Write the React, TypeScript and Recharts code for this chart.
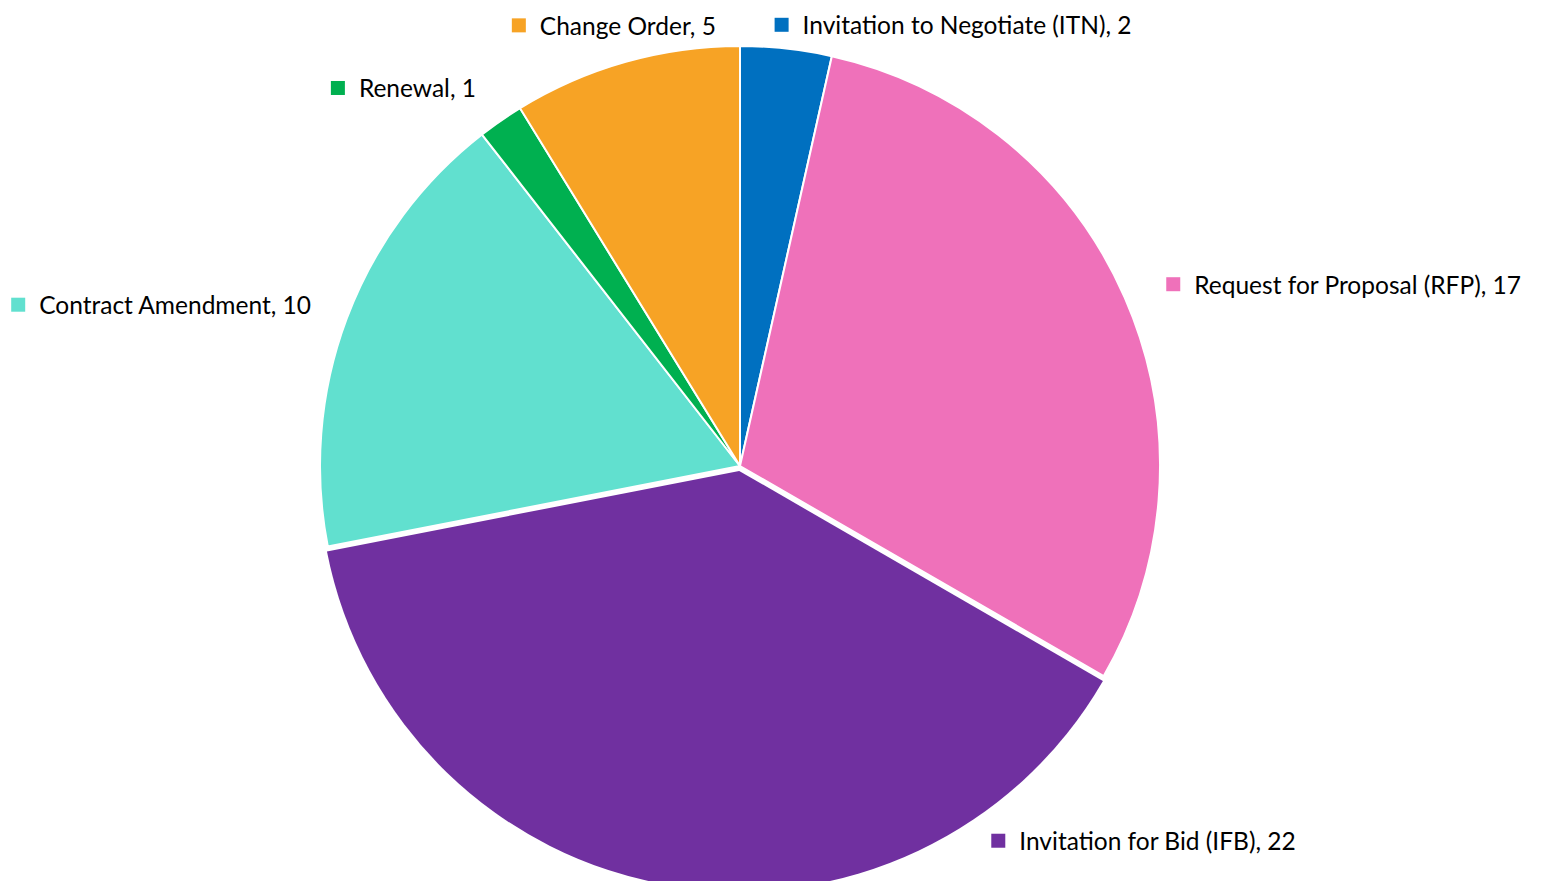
import React from 'react';
import { PieChart, Pie, Cell } from 'recharts';

const categories = [
  'Invitation to Negotiate (ITN)',
  'Request for Proposal (RFP)',
  'Invitation for Bid (IFB)',
  'Contract Amendment',
  'Renewal',
  'Change Order',
];
const counts = [2, 17, 22, 10, 1, 5];

const COLORS = ['#0070C0', '#EF71BA', '#7030A0', '#61E0CF', '#00B050', '#F7A325'];

// slice pulled out of the pie, like in the original
const EXPLODED = 'Invitation for Bid (IFB)';
const EXPLODE_PX = 5;

// nudges for the label square relative to the point just outside each slice
const LABEL_NUDGE: Record<string, [number, number]> = {
  'Invitation to Negotiate (ITN)': [-9, 16],
  'Request for Proposal (RFP)': [12, 3],
  'Invitation for Bid (IFB)': [334, -79],
  'Contract Amendment': [-291, 0],
  Renewal: [-140, 0],
  'Change Order': [-96, 2],
};

const RADIAN = Math.PI / 180;
const CX = 740;
const CY = 466;
const R = 420;

function renderLabel(props: any) {
  const { cx, cy, midAngle, outerRadius, name, value, index } = props;
  const r = outerRadius + 40;
  const bx = cx + r * Math.cos(-midAngle * RADIAN);
  const by = cy + r * Math.sin(-midAngle * RADIAN);
  const [dx, dy] = LABEL_NUDGE[name] || [0, 0];
  const x = bx + dx;
  const y = by + dy;
  return (
    <g key={`lbl-${index}`}>
      <rect x={x - 7} y={y - 7} width={14} height={14} fill={COLORS[index]} />
      <text
        x={x + 21}
        y={y}
        dominantBaseline="central"
        textAnchor="start"
        fontFamily="Lato, sans-serif"
        fontSize={24.5}
        fill="#000"
      >
        {`${name}, ${value}`}
      </text>
    </g>
  );
}

export default function App() {
  const data = categories.map((name, i) => ({ name, value: counts[i] }));

  // explosion offset along the mid angle of the pulled-out slice
  const total = counts.reduce((a, b) => a + b, 0);
  const k = categories.indexOf(EXPLODED);
  const before = counts.slice(0, k).reduce((a, b) => a + b, 0);
  const midCw = ((before + counts[k] / 2) / total) * 360 * RADIAN;
  const ex = EXPLODE_PX * Math.sin(midCw);
  const ey = -EXPLODE_PX * Math.cos(midCw);

  return (
    <div style={{ width: 1541, height: 881, background: '#fff' }}>
      <style>{`body{margin:0}`}</style>
      <PieChart width={1541} height={881} margin={{ top: 0, right: 0, bottom: 0, left: 0 }}>
        <Pie
          data={data}
          dataKey="value"
          nameKey="name"
          cx={CX}
          cy={CY}
          outerRadius={R}
          startAngle={90}
          endAngle={-270}
          label={renderLabel}
          labelLine={false}
          isAnimationActive={false}
        >
          {data.map((entry, index) => (
            <Cell
              key={`cell-${index}`}
              fill={entry.name === EXPLODED ? 'none' : COLORS[index]}
              stroke={entry.name === EXPLODED ? 'none' : '#fff'}
              strokeWidth={2}
            />
          ))}
        </Pie>
        <Pie
          data={data}
          dataKey="value"
          nameKey="name"
          cx={CX + ex}
          cy={CY + ey}
          outerRadius={R}
          startAngle={90}
          endAngle={-270}
          label={false}
          labelLine={false}
          isAnimationActive={false}
        >
          {data.map((entry, index) => (
            <Cell
              key={`cellx-${index}`}
              fill={entry.name === EXPLODED ? COLORS[index] : 'none'}
              stroke="none"
            />
          ))}
        </Pie>
      </PieChart>
    </div>
  );
}
